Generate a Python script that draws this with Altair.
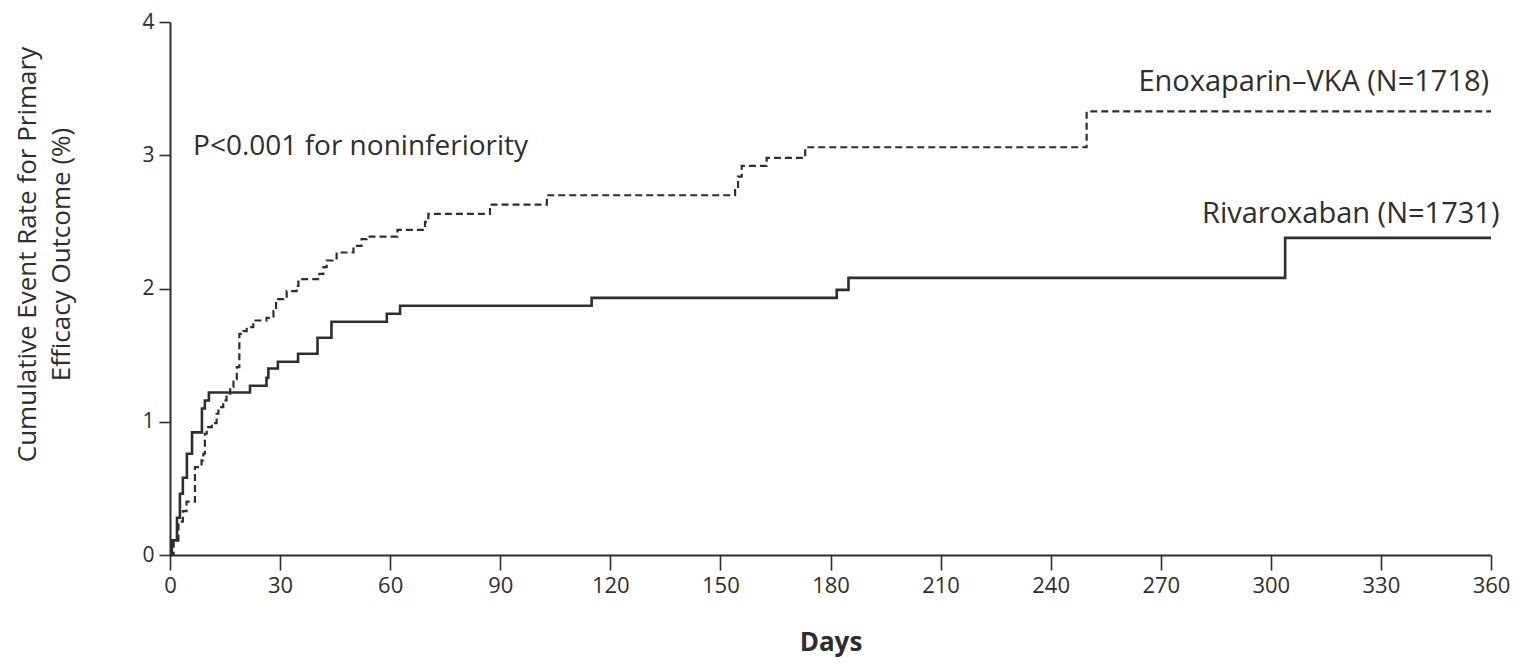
import altair as alt
import pandas as pd

# Rivaroxaban (solid) step change points: day, cumulative event rate (%)
riva_days = [0, 0.5, 1.9, 2.7, 3.5, 4.6, 6.0, 8.7, 9.5, 10.6, 21.8, 26.3, 26.8, 29.4,
             34.9, 40.2, 44.0, 59.1, 62.7, 114.9, 181.7, 184.9, 303.9, 360]
riva_vals = [0, 0.11, 0.28, 0.46, 0.58, 0.76, 0.92, 1.10, 1.16, 1.22, 1.27, 1.33, 1.40, 1.45,
             1.51, 1.63, 1.75, 1.81, 1.87, 1.93, 1.99, 2.08, 2.38, 2.38]

# Enoxaparin-VKA (dashed) step change points
enox_days = [0, 1.0, 2.3, 3.5, 4.5, 6.8, 8.6, 9.1, 9.5, 10.0, 11.4, 12.7, 13.2, 14.5, 15.4,
             16.4, 17.3, 18.2, 18.9, 20.0, 20.9, 22.7, 26.3, 28.2, 28.9, 31.8, 34.5, 35.0,
             40.7, 41.8, 42.7, 45.4, 50.0, 52.2, 53.6, 62.0, 69.5, 70.4, 87.2, 102.7, 154.0,
             154.8, 155.8, 162.6, 173.1, 249.8, 360]
enox_vals = [0, 0.10, 0.25, 0.33, 0.40, 0.66, 0.71, 0.76, 0.91, 0.96, 0.99, 1.06, 1.11, 1.16, 1.21,
             1.26, 1.32, 1.41, 1.66, 1.68, 1.71, 1.76, 1.78, 1.83, 1.92, 1.98, 2.02, 2.07,
             2.11, 2.16, 2.21, 2.27, 2.32, 2.37, 2.39, 2.44, 2.50, 2.56, 2.63, 2.70, 2.75,
             2.84, 2.92, 2.98, 3.06, 3.33, 3.33]

x_ticks = list(range(0, 361, 30))
y_ticks = [0, 1, 2, 3, 4]

label_texts = ["Enoxaparin\u2013VKA (N=1718)", "Rivaroxaban (N=1731)"]
label_days = [359.5, 362.3]
label_vals = [3.55, 2.56]

note_text = ["P<0.001 for noninferiority"]
note_day = [6.3]
note_val = [3.06]

riva = pd.DataFrame({"day": riva_days, "rate": riva_vals})
enox = pd.DataFrame({"day": enox_days, "rate": enox_vals})
labels = pd.DataFrame({"day": label_days, "rate": label_vals, "text": label_texts})
note = pd.DataFrame({"day": note_day, "rate": note_val, "text": note_text})

FONT = "Open Sans"
INK = "#2e2e2e"

common_axis = dict(
    domainColor=INK, tickColor=INK, labelColor=INK, titleColor=INK,
    labelFont=FONT, titleFont=FONT, domainWidth=2, tickWidth=1.6, grid=False,
)

x_enc = alt.X(
    "day:Q",
    scale=alt.Scale(domain=[0, 360], nice=False, zero=False),
    axis=alt.Axis(
        values=x_ticks, format="d", title="Days", tickSize=15, labelPadding=5,
        labelFontSize=22, titleFontSize=26, titleFontWeight="bold", titlePadding=33,
        labelFlush=False, **common_axis,
    ),
)
y_enc = alt.Y(
    "rate:Q",
    scale=alt.Scale(domain=[0, 4], nice=False),
    axis=alt.Axis(
        values=y_ticks, format="d", tickSize=11, labelPadding=5, labelFontSize=21,
        title=["Cumulative Event Rate for Primary", "Efficacy Outcome (%)"],
        titleFontSize=26, titleFontWeight="normal", titleAngle=270, titleAlign="center",
        titleBaseline="top", titleX=-156, titleY=232, titleLineHeight=34,
        **common_axis,
    ),
)

riva_line = alt.Chart(riva).mark_line(
    interpolate="step-after", color=INK, strokeWidth=2.6
).encode(x=x_enc, y=y_enc)

enox_line = alt.Chart(enox).mark_line(
    interpolate="step-after", color=INK, strokeWidth=2.2, strokeDash=[7, 4]
).encode(x="day:Q", y="rate:Q")

label_marks = alt.Chart(labels).mark_text(
    align="right", baseline="middle", font=FONT, fontSize=29, color=INK
).encode(x="day:Q", y="rate:Q", text="text:N")

note_mark = alt.Chart(note).mark_text(
    align="left", baseline="middle", font=FONT, fontSize=28, color=INK
).encode(x="day:Q", y="rate:Q", text="text:N")

chart = (
    alt.layer(riva_line, enox_line, label_marks, note_mark)
    .properties(
        width=1321, height=533,
        background="white",
        autosize=alt.AutoSizeParams(type="none"),
        padding={"left": 162, "top": 14, "right": 30, "bottom": 102},
    )
    .configure_view(stroke=None)
)

chart.save("out.html", embed_options={"renderer": "svg", "actions": False})
